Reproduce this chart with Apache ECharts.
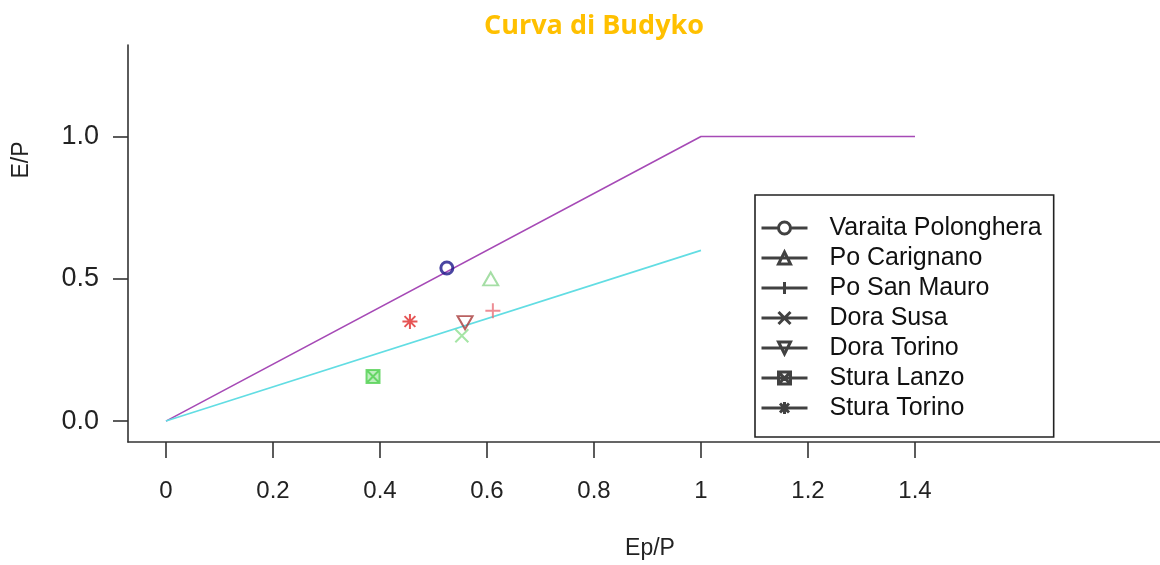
<!DOCTYPE html>
<html>
<head>
<meta charset="utf-8">
<script src="https://cdn.jsdelivr.net/npm/echarts@6/dist/echarts.min.js"></script>
<style>html,body{margin:0;padding:0;background:#fff}#c{width:1160px;height:565px}</style>
</head>
<body>
<div id="c"></div>
<script>
// ---- data ----
const stationNames = ['Varaita Polonghera','Po Carignano','Po San Mauro','Dora Susa','Dora Torino','Stura Lanzo','Stura Torino'];
const stationEpP = [0.525, 0.607, 0.611, 0.553, 0.559, 0.387, 0.456];
const stationEP  = [0.538, 0.500, 0.388, 0.300, 0.346, 0.157, 0.350];
const budykoLimitX = [0, 1, 1.4];
const budykoLimitY = [0, 1, 1];
const refLineX = [0, 1];
const refLineY = [0, 0.6];
const xTickValues = [0, 0.2, 0.4, 0.6, 0.8, 1, 1.2, 1.4];
const xTickLabels = ['0','0.2','0.4','0.6','0.8','1','1.2','1.4'];
const yTickValues = [0, 0.5, 1];
const yTickLabels = ['0.0','0.5','1.0'];

// ---- styles ----
const markerColors = ['#1c168a','#8fd68f','#e8707a','#8fdf8f','#a83a3a','#4fcf4f','#e02a2a'];
const markerSymbols = [
  'circle',
  'triangle',
  'path://M0,-1 L0,1 M-1,0 L1,0',
  'path://M-1,-1 L1,1 M1,-1 L-1,1',
  'path://M-1,-1 L1,-1 L0,1 Z',
  'path://M-1,-1 L1,-1 L1,1 L-1,1 Z M-1,-1 L1,1 M1,-1 L-1,1',
  'path://M0,-1 L0,1 M-1,0 L1,0 M-0.72,-0.72 L0.72,0.72 M0.72,-0.72 L-0.72,0.72'
];
const markerSizes = [12, [15,13], 15, 13, [15,13], 13, 15];
const markerFills = ['rgba(0,0,0,0)','rgba(0,0,0,0)','rgba(0,0,0,0)','rgba(0,0,0,0)','rgba(0,0,0,0)','rgba(120,220,120,0.6)','rgba(0,0,0,0)'];
const legendIcons = [
  'path://M0,6 L17,6 M29,6 L46,6 M17,6 A6,6 0 1 1 29,6 A6,6 0 1 1 17,6',
  'path://M0,6 L46,6 M17,12 L23,0 L29,12 Z',
  'path://M0,6 L46,6 M23,0 L23,12',
  'path://M0,6 L46,6 M17,0 L29,12 M29,0 L17,12',
  'path://M0,6 L46,6 M17,0 L29,0 L23,12 Z',
  'path://M0,6 L46,6 M17,0 L29,0 L29,12 L17,12 Z M17,0 L29,12 M29,0 L17,12',
  'path://M0,6 L46,6 M23,0 L23,12 M18.5,1.5 L27.5,10.5 M27.5,1.5 L18.5,10.5'
];

const font = "'Liberation Sans', Arial, sans-serif";
const chart = echarts.init(document.getElementById('c'), null, {renderer: 'canvas'});

const series = [
  {
    type: 'line', name: 'limite', silent: true, showSymbol: false, symbol: 'none',
    data: budykoLimitX.map((x, i) => [x, budykoLimitY[i]]),
    lineStyle: {color: '#a64ab6', width: 1.6}, z: 2
  },
  {
    type: 'line', name: 'retta', silent: true, showSymbol: false, symbol: 'none',
    data: refLineX.map((x, i) => [x, refLineY[i]]),
    lineStyle: {color: '#62dde3', width: 1.6}, z: 2
  }
];
stationNames.forEach((n, i) => {
  series.push({
    type: 'scatter', name: n, silent: true,
    symbol: markerSymbols[i], symbolSize: markerSizes[i],
    data: [[stationEpP[i], stationEP[i]]],
    itemStyle: {color: markerFills[i], borderColor: markerColors[i], borderWidth: i === 0 ? 3 : 2},
    z: 5
  });
});

chart.setOption({
  animation: false,
  backgroundColor: '#fff',
  title: {
    text: 'Curva di Budyko', left: 589, top: 8, textAlign: 'center',
    textStyle: {color: '#FFC000', fontFamily: 'Open Sans', fontWeight: 'bold', fontSize: 27}
  },
  grid: {left: 128, top: 45, right: 0, bottom: 122, containLabel: false},
  xAxis: {
    type: 'value', min: -0.0710, max: 1.858,
    name: 'Ep/P', nameLocation: 'middle', nameGap: 95,
    nameTextStyle: {fontFamily: font, fontSize: 23, color: '#222', padding: [0, 0, 0, 12]},
    axisLine: {onZero: false, lineStyle: {color: '#333', width: 1.6}},
    axisTick: {customValues: xTickValues, length: 16, lineStyle: {color: '#333', width: 1.6}},
    axisLabel: {
      customValues: xTickValues, margin: 37,
      formatter: v => { const k = xTickValues.findIndex(t => Math.abs(t - v) < 1e-6); return k >= 0 ? xTickLabels[k] : ''; },
      fontFamily: font, fontSize: 24, color: '#222'
    },
    splitLine: {show: false}
  },
  yAxis: {
    type: 'value', min: -0.0734, max: 1.3217,
    axisLine: {show: true, onZero: false, lineStyle: {color: '#333', width: 1.6}},
    axisTick: {show: true, customValues: yTickValues, length: 15, lineStyle: {color: '#333', width: 1.6}},
    axisLabel: {
      customValues: yTickValues, margin: 29,
      formatter: v => { const k = yTickValues.findIndex(t => Math.abs(t - v) < 1e-6); return k >= 0 ? yTickLabels[k] : ''; },
      fontFamily: font, fontSize: 27, color: '#222'
    },
    splitLine: {show: false}
  },
  legend: {
    orient: 'vertical', left: 755, top: 195,
    data: stationNames.map((n, i) => ({name: n, icon: legendIcons[i]})),
    itemWidth: 46, itemHeight: 12, itemGap: 0,
    itemStyle: {color: 'rgba(0,0,0,0)', borderColor: '#111', borderWidth: 3},
    textStyle: {fontFamily: font, fontSize: 25, lineHeight: 30, color: '#111', padding: [0, 0, 0, 17]},
    padding: [18, 12, 14, 5],
    borderColor: '#222', borderWidth: 1.6, backgroundColor: '#fff',
    selectedMode: false
  },
  graphic: [{
    type: 'text', x: 22, y: 160, rotation: Math.PI / 2,
    style: {text: 'E/P', fontFamily: font, fontSize: 23, fill: '#222', align: 'center', verticalAlign: 'middle'}
  }],
  series: series
});
</script>
</body>
</html>
